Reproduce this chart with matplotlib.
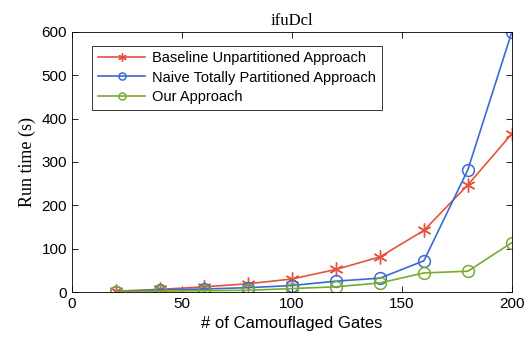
import matplotlib
matplotlib.use("Agg")
from matplotlib import pyplot as plt

# data
gates = [20, 40, 60, 80, 100, 120, 140, 160, 180, 200]
baseline = [2, 6, 12, 19, 30, 52, 81, 142, 247, 365]
naive = [1, 5, 7, 10, 15, 25, 32, 72, 282, 600]
ours = [1, 2, 3, 4, 8, 12, 21, 44, 48, 114]

plt.rcParams['font.family'] = ['Liberation Sans', 'DejaVu Sans']

fig = plt.figure(figsize=(5.25, 3.46), dpi=100)
ax = fig.add_axes([0.137, 0.156, 0.838, 0.752])

# (6, 2, 0) -> six armed asterisk like matlab's '*'
ax.plot(gates, baseline, color='#e5533c', marker=(6, 2, 0), markersize=10,
        markeredgewidth=1.0, linewidth=1.2, label="Baseline Unpartitioned Approach")
ax.plot(gates, naive, color='#3a6bd0', marker='o', markersize=8.5, markerfacecolor='none',
        markeredgewidth=1.1, linewidth=1.2, label="Naive Totally Partitioned Approach")
ax.plot(gates, ours, color='#77ac30', marker='o', markersize=8.5, markerfacecolor='none',
        markeredgewidth=1.1, linewidth=1.2, label="Our Approach")

ax.set_xlim(0, 200)
ax.set_ylim(0, 600)
ax.set_xticks(range(0, 201, 50))
ax.set_yticks(range(0, 601, 100))
ax.tick_params(direction='in', top=True, right=True, labelsize=11, length=4, width=0.6)
for s in ax.spines.values():
    s.set_linewidth(0.6)

ax.set_xlabel("# of Camouflaged Gates", fontsize=12)
ax.set_ylabel("Run time (s)", fontsize=13, family=['Liberation Serif', 'DejaVu Serif'])
ax.set_title("ifuDcl", fontsize=12, family=['Liberation Serif', 'DejaVu Serif'], pad=5)

leg = ax.legend(loc='upper left', bbox_to_anchor=(0.03, 0.975), fontsize=10.5,
                fancybox=False, edgecolor='#333333', framealpha=1, markerscale=0.6,
                handlelength=3.2, borderpad=0.4, labelspacing=0.35, handletextpad=0.5)
leg.get_frame().set_linewidth(0.7)

plt.savefig("out.png", dpi=100)
